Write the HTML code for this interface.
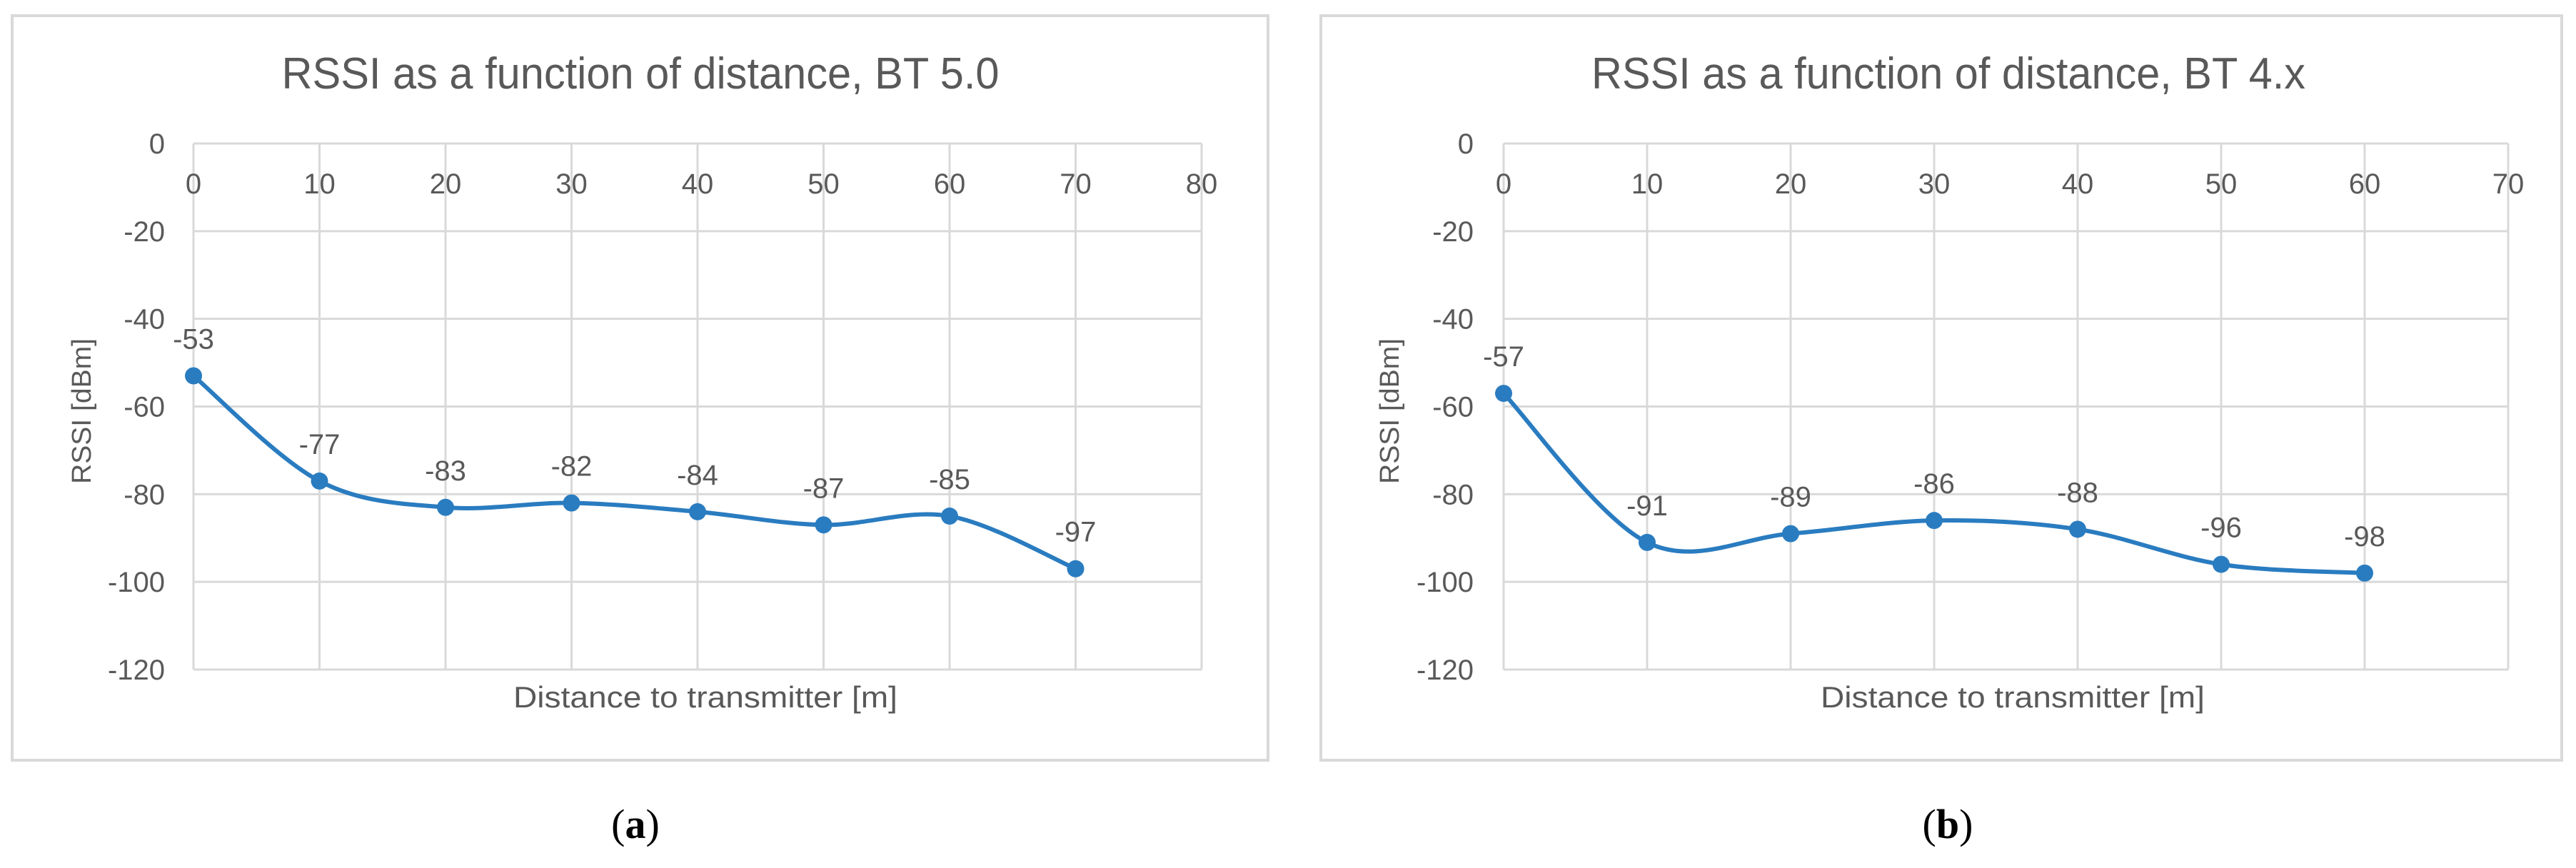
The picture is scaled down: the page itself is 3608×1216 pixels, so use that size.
<!DOCTYPE html>
<html><head><meta charset="utf-8"><style>
html,body{margin:0;padding:0;background:#fff;}
svg{display:block;}
text{font-family:"Liberation Sans",sans-serif;fill:#595959;}
</style></head><body>
<svg id="fig" width="3608" height="1216" viewBox="0 0 3608 1216" xmlns="http://www.w3.org/2000/svg"></svg>
<script>
const xTicksA = [0,10,20,30,40,50,60,70,80];
const xValsA = [0,10,20,30,40,50,60,70];
const rssiA = [-53,-77,-83,-82,-84,-87,-85,-97];
const xTicksB = [0,10,20,30,40,50,60,70];
const xValsB = [0,10,20,30,40,50,60];
const rssiB = [-57,-91,-89,-86,-88,-96,-98];
const yTicks = [0,-20,-40,-60,-80,-100,-120];

const NS="http://www.w3.org/2000/svg";
const svg=document.getElementById('fig');
function mk(tag,attrs,parent){const e=document.createElementNS(NS,tag);for(const k in attrs)e.setAttribute(k,attrs[k]);(parent||svg).appendChild(e);return e;}

function chart(cfg){
  const g=mk('g',{});
  
  
  const fr=mk('rect',{x:cfg.fx1,y:22,width:cfg.fx2-cfg.fx1,height:1043,fill:'#fff',stroke:'#d9d9d9','stroke-width':4},g);
  
  
  const L=cfg.left,R=cfg.right,T=201,B=938;
  const xmax=cfg.xTicks[cfg.xTicks.length-1];
  const sx=v=>L+(v/xmax)*(R-L);
  const sy=v=>T+(-v/120)*(B-T);
  // gridlines
  yTicks.forEach(v=>{
    const l=mk('line',{x1:L,x2:R,y1:sy(v),y2:sy(v),stroke:'#d9d9d9','stroke-width':3},g);
    
    
    const t=mk('text',{x:cfg.ylabR,y:sy(v)+14,'text-anchor':'end','font-size':40},g);
    t.textContent=String(v).replace('-','-');
    
    
  });
  cfg.xTicks.forEach(v=>{
    const l=mk('line',{x1:sx(v),x2:sx(v),y1:T,y2:B,stroke:'#d9d9d9','stroke-width':3},g);
    
    
    const t=mk('text',{x:sx(v),y:271,'text-anchor':'middle','font-size':40},g);
    t.textContent=v;
    
    
  });
  // title
  const ti=mk('text',{x:cfg.titleX,y:124,'text-anchor':'middle','font-size':62,textLength:cfg.titleW,lengthAdjust:'spacingAndGlyphs'},g);
  ti.textContent=cfg.title;
  
  
  const xt=mk('text',{x:cfg.xtX,y:991,'text-anchor':'middle','font-size':42,textLength:538,lengthAdjust:'spacingAndGlyphs'},g);
  xt.textContent='Distance to transmitter [m]';
  
  
  const yt=mk('text',{x:0,y:0,'text-anchor':'middle','font-size':38,textLength:204,lengthAdjust:'spacingAndGlyphs',transform:`translate(${cfg.ytX+13},576) rotate(-90)`},g);
  yt.textContent='RSSI [dBm]';
  
  
  // smooth line (Catmull-Rom)
  const pts=cfg.xs.map((x,i)=>[sx(x),sy(cfg.ys[i])]);
  let d=`M${pts[0][0]},${pts[0][1]}`;
  for(let i=0;i<pts.length-1;i++){
    const p0=pts[i-1]||pts[i],p1=pts[i],p2=pts[i+1],p3=pts[i+2]||pts[i+1];
    const c1=[p1[0]+(p2[0]-p0[0])/6,p1[1]+(p2[1]-p0[1])/6];
    const c2=[p2[0]-(p3[0]-p1[0])/6,p2[1]-(p3[1]-p1[1])/6];
    d+=` C${c1[0]},${c1[1]} ${c2[0]},${c2[1]} ${p2[0]},${p2[1]}`;
  }
  const path=mk('path',{d:d,fill:'none',stroke:'#2a7cc0','stroke-width':6},g);
  
  
  pts.forEach((p,i)=>{
    const c=mk('circle',{cx:p[0],cy:p[1],r:12,fill:'#2a7cc0'},g);
    
    
    const t=mk('text',{x:p[0],y:p[1]-38,'text-anchor':'middle','font-size':40},g);
    t.textContent=cfg.ys[i];
    
    
  });
  const sub=mk('text',{x:cfg.subX,y:1174,'text-anchor':'middle','font-size':58,style:'font-family:"Liberation Serif",serif;fill:#000'},g);
  sub.innerHTML='(<tspan font-weight="bold">'+cfg.sub+'</tspan>)';
  
  
}
chart({name:'chart-bt50',fx1:17,fx2:1776,left:271,right:1683,ylabR:231,xTicks:xTicksA,xs:xValsA,ys:rssiA,
  title:'RSSI as a function of distance, BT 5.0',titleX:897,titleW:1005,xtX:988,ytX:114,subX:890,sub:'a'});
chart({name:'chart-bt4x',fx1:1850,fx2:3588,left:2106,right:3513,ylabR:2064,xTicks:xTicksB,xs:xValsB,ys:rssiB,
  title:'RSSI as a function of distance, BT 4.x',titleX:2729,titleW:1000,xtX:2819,ytX:1946,subX:2728,sub:'b'});
</script>
</body></html>
